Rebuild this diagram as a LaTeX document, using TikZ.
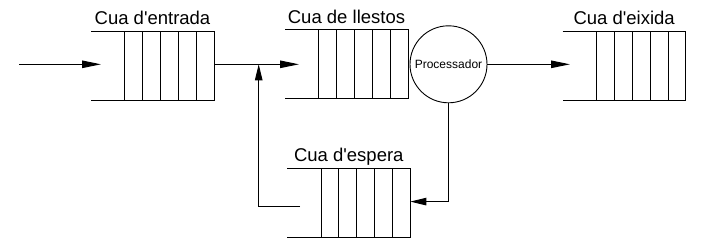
\documentclass[tikz,border=0pt]{standalone}
\usepackage{fontspec}
\newfontfamily\labfont{Liberation Sans}
\usetikzlibrary{arrows.meta}
\begin{document}
\begin{tikzpicture}[x=1pt,y=-1pt,
  line width=0.9pt,
  flow/.style={-{Triangle[length=19pt,width=7.5pt]}},
  back/.style={-{Triangle[length=16pt,width=7.5pt]}},
  qlabel/.style={font=\labfont\fontsize{18.5}{20}\selectfont, anchor=base, inner sep=0pt},
  cpubox/.style={circle, draw, minimum size=77pt, inner sep=0pt,
    font=\labfont\fontsize{12}{14}\selectfont},
  % a queue: open on the left, five slots closed on the right
  pics/queue/.style={code={
    \draw (0,0) -- (123,0) -- (123,69) -- (0,69);
    \foreach \cx in {33.7,51.6,69.5,87.4,105.3} \draw (\cx,0) -- (\cx,69);
    \coordinate (-out) at (123,33.3);
    \node[qlabel] (-label) at (61.5,-6.5) {#1};
  }},
]
\useasboundingbox (0,0) rectangle (716,250);

\pic (qin)    at (91,31)       {queue={Cua d'entrada}};
\pic (qready) at (285,29.5)    {queue={Cua de llestos}};
\pic (qout)   at (562.7,31)    {queue={Cua d'eixida}};
\pic (qwait)  at (287.3,168.3) {queue={Cua d'espera}};

\node[cpubox] (cpu) at (448.5,64.3) {Processador};

% entry points and junctions
\coordinate (src)       at (19,64.3);
\coordinate (qin-in)    at (101,64.3);
\coordinate (qready-in) at (299,64.3);
\coordinate (qout-in)   at (570,64.3);
\coordinate (join)      at (258.7,64.3);
\coordinate (qwait-tap) at (300,206);

\draw[flow] (src) -- (qin-in);
\draw[flow] (qin-out) -- (qready-in);
\draw[flow] (cpu.east) -- (qout-in);
\draw[back] (cpu.south) |- (qwait-out);
\draw[back] (qwait-tap) -| (join);
\end{tikzpicture}
\end{document}
